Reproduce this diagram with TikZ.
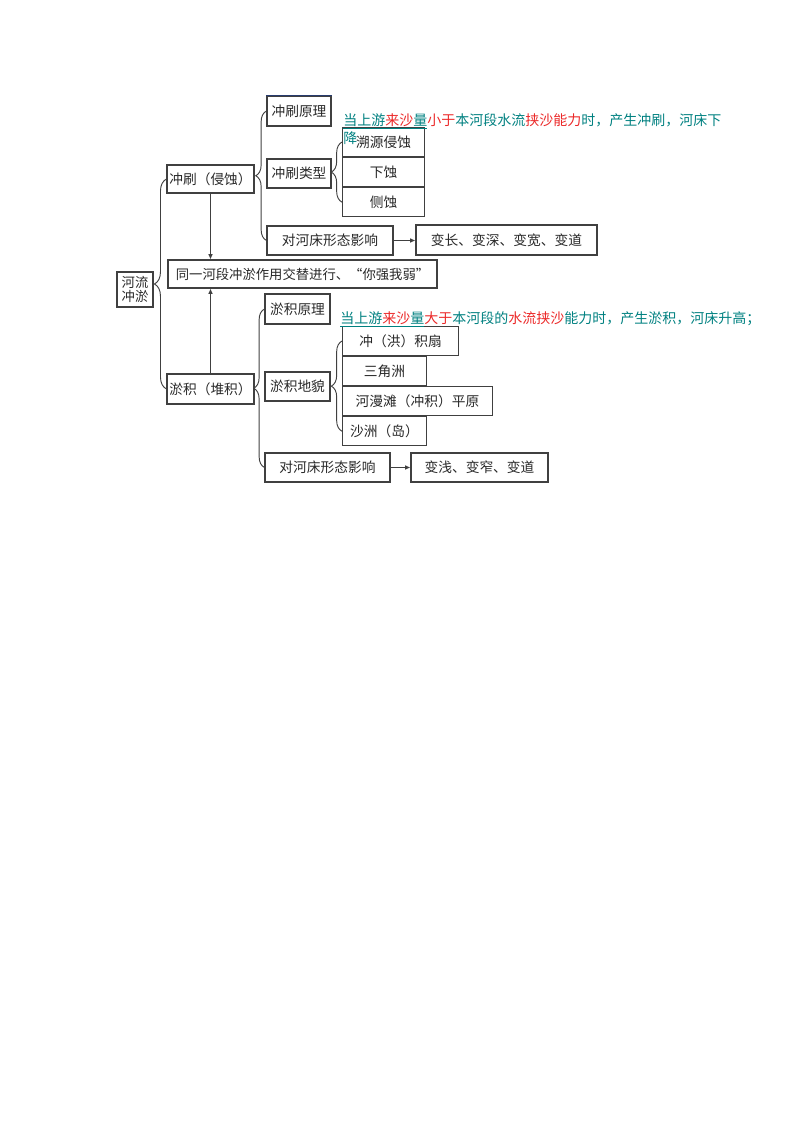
\documentclass[tikz,border=0pt]{standalone}
\usepackage{fontspec}
\newfontfamily\cjk{Noto Sans CJK SC}
\usetikzlibrary{positioning,arrows.meta,decorations.pathreplacing}
\definecolor{boxline}{RGB}{64,64,64}
\definecolor{boxtext}{RGB}{40,40,40}
\definecolor{topedge}{RGB}{40,60,110}
\definecolor{noteteal}{RGB}{0,128,128}
\definecolor{notered}{RGB}{235,40,40}

\begin{document}
\begin{tikzpicture}[x=0.75pt, y=-0.75pt,
    box/.style={rectangle, draw=boxline, line width=0.8pt, text=boxtext, inner sep=0pt,
        font=\cjk\fontsize{10.3}{11}\selectfont},
    row/.style={box, minimum height=21.75pt, anchor=north west},
    note/.style={anchor=base west, inner sep=0pt, text=noteteal, font=\cjk\fontsize{10.5}{12}\selectfont},
    curly/.style={draw=boxline, line width=0.7pt, decorate, decoration={brace, amplitude=#1, mirror}},
    curly/.default=8pt,
    arrow/.style={draw=boxline, line width=0.7pt, -{Latex[length=4pt,width=3.5pt]}}]
    \useasboundingbox (0,0) rectangle (800,1132);

    % root and middle
    \node[box, minimum width=27pt, minimum height=26.25pt, align=center,
        font=\cjk\fontsize{10}{10.5}\selectfont] (river) at (135,289.5) {河流\\冲淤};
    \node[box, minimum width=201.75pt, minimum height=21pt,
        font=\cjk\fontsize{10}{11}\selectfont] (tongyi) at (302.5,274) {同一河段冲淤作用交替进行、“你强我弱”};

    % erosion branch
    \node[box, minimum width=65.25pt, minimum height=21pt] (chongshua) at (210.5,179) {冲刷（侵蚀）};
    \node[box, minimum width=48pt, minimum height=22.5pt] (yuanli1) at (299,111) {冲刷原理};
    \draw[topedge, line width=0.8pt] (yuanli1.north west) -- (yuanli1.north east);
    \node[box, minimum width=48pt, minimum height=21.75pt] (leixing1) at (299,173.5) {冲刷类型};
    \node[box, minimum width=94.5pt, minimum height=21.75pt] (effect1) at (330,240.5) {对河床形态影响};
    \node[box, minimum width=135.75pt, minimum height=22.5pt] (result1) at (506.5,240) {变长、变深、变宽、变道};
    \node[row, minimum width=61.5pt] (r1) at (342,127) {溯源侵蚀};
    \node[row, minimum width=61.5pt] (r2) at (r1.south west) {下蚀};
    \node[row, minimum width=61.5pt] (r3) at (r2.south west) {侧蚀};

    % deposition branch
    \node[box, minimum width=65.25pt, minimum height=22.5pt] (yuji) at (210.5,389) {淤积（堆积）};
    \node[box, minimum width=48.75pt, minimum height=22.5pt] (yuanli2) at (297.5,309) {淤积原理};
    \node[box, minimum width=48.75pt, minimum height=21.75pt] (dimao) at (297.5,386.5) {淤积地貌};
    \node[box, minimum width=93.75pt, minimum height=21.75pt] (effect2) at (327.5,467.5) {对河床形态影响};
    \node[box, minimum width=102.75pt, minimum height=21.75pt] (result2) at (479.5,467.5) {变浅、变窄、变道};
    \node[row, minimum width=87pt] (s1) at (342,326) {冲（洪）积扇};
    \node[row, minimum width=63pt] (s2) at (s1.south west) {三角洲};
    \node[row, minimum width=112.5pt] (s3) at (s2.south west) {河漫滩（冲积）平原};
    \node[row, minimum width=63pt] (s4) at (s3.south west) {沙洲（岛）};

    % braces
    \draw[curly=9pt] (chongshua.west) -- (yuji.west);
    \draw[curly] (yuanli1.west) -- (effect1.west);
    \draw[curly] (r1.west) -- (r3.west);
    \draw[curly] (yuanli2.west) -- (effect2.west);
    \draw[curly] (s1.west) -- (s4.west);

    % arrows
    \draw[arrow] (chongshua.south) -- (chongshua.south |- tongyi.north);
    \draw[arrow] (yuji.north) -- (yuji.north |- tongyi.south);
    \draw[arrow] (effect1.east) -- (effect1.east -| result1.west);
    \draw[arrow] (effect2.east) -- (effect2.east -| result2.west);

    % notes
    \node[note] (note1) at (343,125.5) {\underline{当上游\textcolor{notered}{来沙}量}\textcolor{notered}{小于}本河段水流\textcolor{notered}{挟沙能力}时，产生冲刷，河床下};
    \node[note] (note1b) at (343,143.5) {降};
    \node[note] (note2) at (340,323.5) {\underline{当上游\textcolor{notered}{来沙}量}\textcolor{notered}{大于}本河段的\textcolor{notered}{水流挟沙}能力时，产生淤积，河床升高；};
\end{tikzpicture}
\end{document}
